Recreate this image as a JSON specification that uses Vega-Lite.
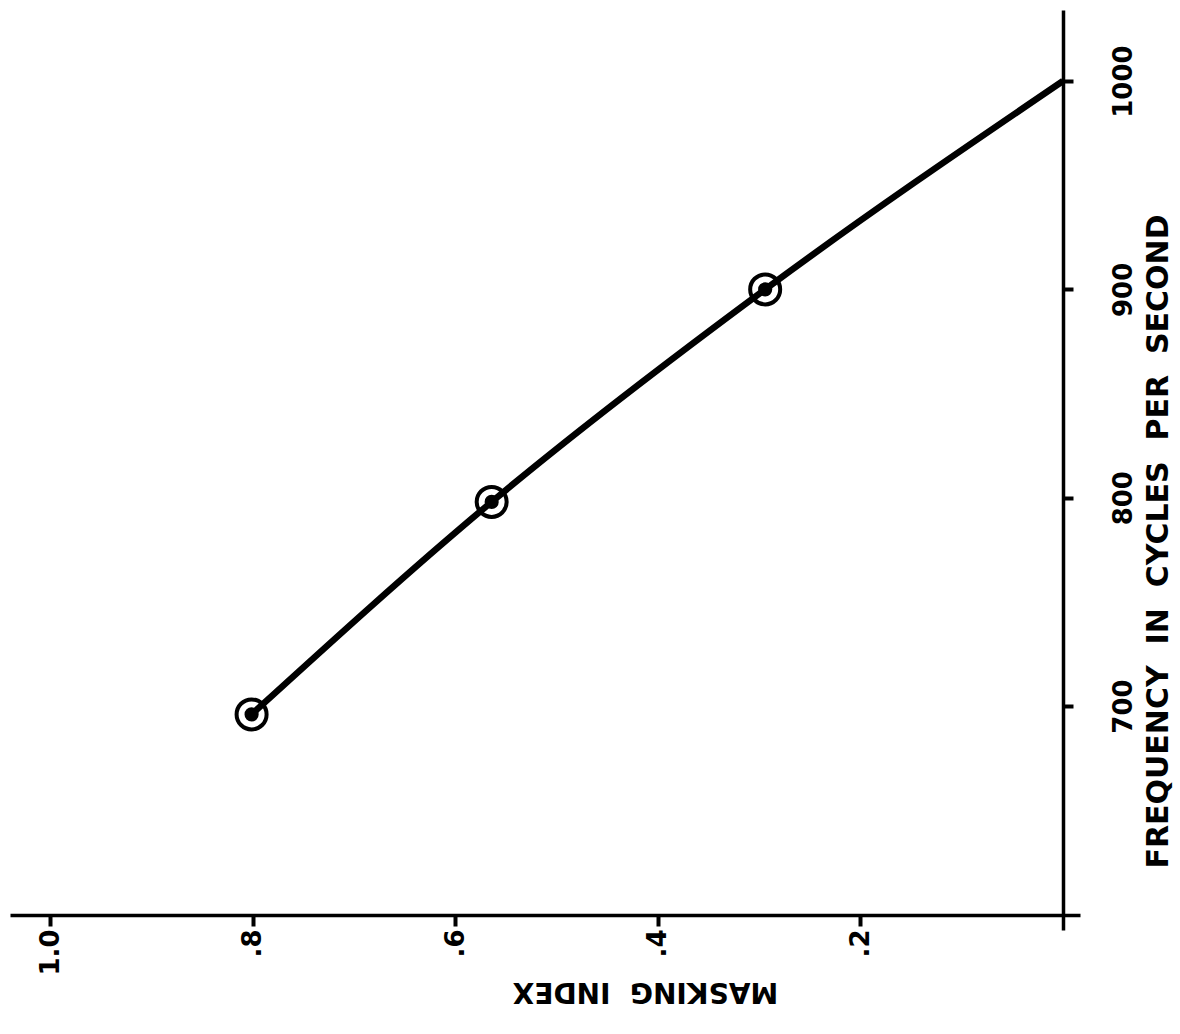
{
  "$schema": "https://vega.github.io/schema/vega-lite/v6.json",
  "width": 1070,
  "height": 920,
  "autosize": {"type": "none"},
  "padding": {"left": 10, "top": 10, "right": 100, "bottom": 104},
  "background": "white",
  "config": {"view": {"stroke": null}, "font": "DejaVu Sans"},
  "data": {
    "values": [
      {"frequency": 696, "masking": 0.801, "circled": true},
      {"frequency": 798, "masking": 0.564, "circled": true},
      {"frequency": 900, "masking": 0.294, "circled": true},
      {"frequency": 1000, "masking": 0.0, "circled": false}
    ]
  },
  "encoding": {
    "x": {
      "field": "masking",
      "type": "quantitative",
      "scale": {"domain": [-0.0168, 1.0395], "reverse": true, "nice": false, "zero": false},
      "axis": {
        "orient": "bottom",
        "offset": -15,
        "values": [0.2, 0.4, 0.6, 0.8, 1.0],
        "labelExpr": "datum.value >= 1 ? '1.0' : '.' + round(datum.value * 10)",
        "grid": false,
        "domainColor": "black",
        "domainWidth": 3.5,
        "tickColor": "black",
        "tickSize": 11,
        "tickWidth": 4,
        "labelAngle": -90,
        "labelAlign": "right",
        "labelBaseline": "middle",
        "labelPadding": 3,
        "labelFlush": false,
        "labelOverlap": false,
        "labelBound": false,
        "labelFontSize": 26,
        "labelFontWeight": "bold",
        "labelColor": "black",
        "title": "MASKING\u00a0\u00a0INDEX",
        "titleAngle": 180,
        "titleX": 635,
        "titleY": 75,
        "titleAlign": "center",
        "titleBaseline": "middle",
        "titleFontSize": 28,
        "titleFontWeight": "bold",
        "titleColor": "black"
      }
    },
    "y": {
      "field": "frequency",
      "type": "quantitative",
      "scale": {"domain": [592.5, 1034.1], "nice": false, "zero": false},
      "axis": {
        "orient": "right",
        "offset": -17,
        "values": [700, 800, 900, 1000],
        "format": "d",
        "grid": false,
        "domainColor": "black",
        "domainWidth": 3.5,
        "tickColor": "black",
        "tickSize": 10,
        "tickWidth": 4,
        "labelAngle": -90,
        "labelAlign": "center",
        "labelBaseline": "top",
        "labelPadding": 37,
        "labelFlush": false,
        "labelOverlap": false,
        "labelBound": false,
        "labelFontSize": 26,
        "labelFontWeight": "bold",
        "labelColor": "black",
        "title": "FREQUENCY\u00a0\u00a0IN\u00a0\u00a0CYCLES\u00a0\u00a0PER\u00a0\u00a0SECOND",
        "titleAngle": -90,
        "titleX": 95,
        "titleY": 531,
        "titleAlign": "center",
        "titleBaseline": "middle",
        "titleFontSize": 30,
        "titleFontWeight": "bold",
        "titleColor": "black"
      }
    }
  },
  "layer": [
    {
      "mark": {"type": "line", "interpolate": "monotone", "color": "black", "strokeWidth": 6.5}
    },
    {
      "transform": [{"filter": "datum.circled"}],
      "mark": {"type": "point", "shape": "circle", "size": 900, "filled": false, "stroke": "black", "strokeWidth": 4, "opacity": 1}
    },
    {
      "transform": [{"filter": "datum.circled"}],
      "mark": {"type": "point", "shape": "circle", "size": 200, "filled": true, "color": "black", "opacity": 1}
    }
  ]
}
